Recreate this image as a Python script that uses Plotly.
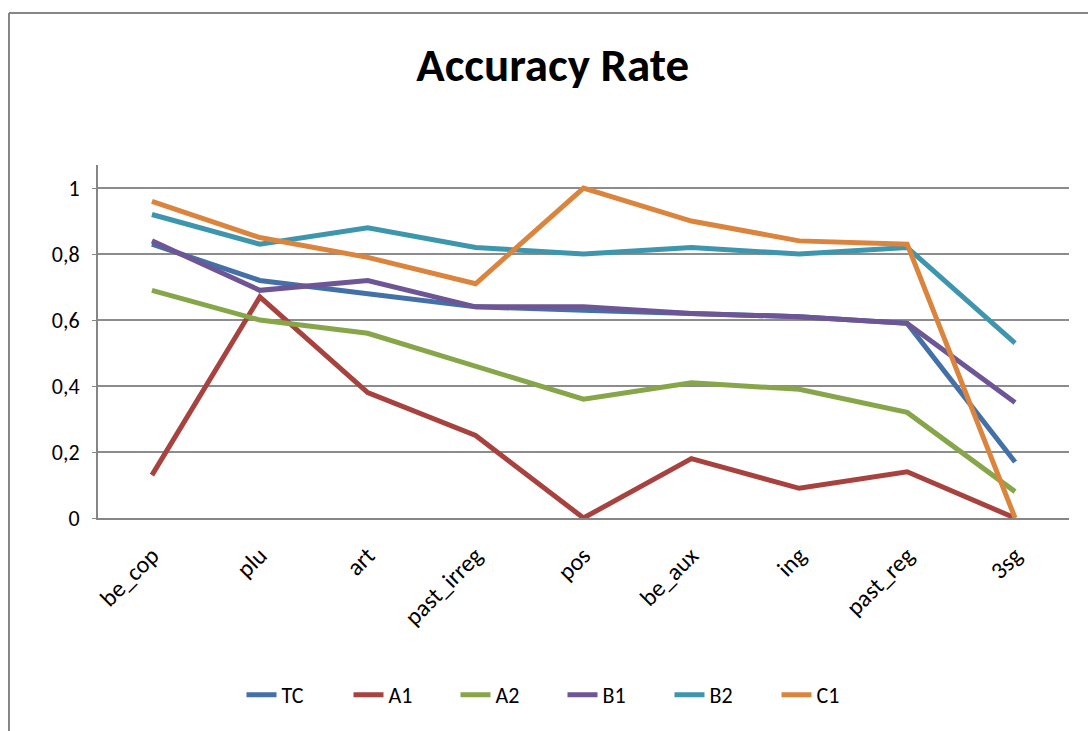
import plotly.graph_objects as go

categories = ["be_cop", "plu", "art", "past_irreg", "pos", "be_aux", "ing", "past_reg", "3sg"]

tc = [0.83, 0.72, 0.68, 0.64, 0.63, 0.62, 0.61, 0.59, 0.17]
a1 = [0.13, 0.67, 0.38, 0.25, 0.00, 0.18, 0.09, 0.14, 0.00]
a2 = [0.69, 0.60, 0.56, 0.46, 0.36, 0.41, 0.39, 0.32, 0.08]
b1 = [0.84, 0.69, 0.72, 0.64, 0.64, 0.62, 0.61, 0.59, 0.35]
b2 = [0.92, 0.83, 0.88, 0.82, 0.80, 0.82, 0.80, 0.82, 0.53]
c1 = [0.96, 0.85, 0.79, 0.71, 1.00, 0.90, 0.84, 0.83, 0.00]

y_ticks = [0, 0.2, 0.4, 0.6, 0.8, 1]

series = [
    ("TC", tc, "#4470A8"),
    ("A1", a1, "#A8423F"),
    ("A2", a2, "#86A649"),
    ("B1", b1, "#6E5595"),
    ("B2", b2, "#3D96AE"),
    ("C1", c1, "#DB843D"),
]

FONT = "Carlito, Lato, sans-serif"

fig = go.Figure()
for name, vals, color in series:
    fig.add_scatter(
        x=categories, y=vals, name=name, mode="lines",
        line=dict(color=color, width=5),
    )

fig.update_layout(
    width=1088, height=731,
    paper_bgcolor="white", plot_bgcolor="white",
    separators=", ",
    font=dict(family=FONT, size=22, color="black"),
    margin=dict(l=98, r=19, t=165, b=213),
    title=dict(
        text="<b>Accuracy Rate</b>", x=0.508, xanchor="center",
        y=1 - 65 / 731, yanchor="middle",
        font=dict(family=FONT, size=47, color="black"),
    ),
    legend=dict(
        orientation="h", xref="container", yref="container",
        x=0.517, xanchor="center", y=1 - 695 / 731, yanchor="middle",
        font=dict(family=FONT, size=22), entrywidth=62,
    ),
    showlegend=True,
)

fig.update_xaxes(
    type="category", range=[-0.5, len(categories) - 0.5], tickangle=-45,
    showgrid=False, showline=True, linecolor="#868686", linewidth=2,
    ticks="", tickfont=dict(size=24), ticklabelstandoff=12,
)
fig.update_yaxes(
    range=[0, 1.07], tickvals=y_ticks, tickformat=".1~f",
    showgrid=True, gridcolor="#8c8c8c", gridwidth=1.5,
    showline=True, linecolor="#868686", linewidth=2,
    ticks="outside", ticklen=4, tickcolor="#868686",
    zeroline=False, tickfont=dict(size=22), ticklabelstandoff=8,
)

# outer chart border (left and top edges visible)
px_w, px_h = 1088 - 98 - 19, 731 - 165 - 213
bx = (9 - 98) / px_w
by = (518 - 13) / px_h
fig.add_shape(type="line", xref="paper", yref="paper", x0=bx, x1=3, y0=by, y1=by,
              line=dict(color="#868686", width=2))
fig.add_shape(type="line", xref="paper", yref="paper", x0=bx, x1=bx, y0=by, y1=-3,
              line=dict(color="#868686", width=2))

fig.write_html("out.html", config={"displayModeBar": False},
               post_script="document.body.style.margin='0';")
